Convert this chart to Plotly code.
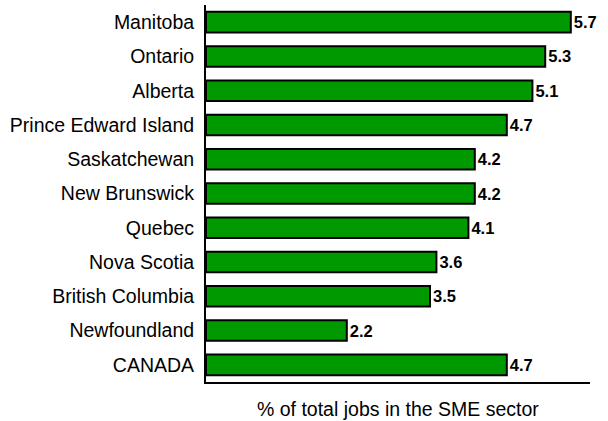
import plotly.graph_objects as go

# Share of total jobs in the SME sector, by province (top to bottom)
provinces = [
    "Manitoba", "Ontario", "Alberta", "Prince Edward Island", "Saskatchewan",
    "New Brunswick", "Quebec", "Nova Scotia", "British Columbia",
    "Newfoundland", "CANADA",
]
share_pct = [5.7, 5.3, 5.1, 4.7, 4.2, 4.2, 4.1, 3.6, 3.5, 2.2, 4.7]
value_labels = [f"{v:.1f}" for v in share_pct]

FONT = "Liberation Sans, Arial, sans-serif"

fig = go.Figure(
    go.Bar(
        x=share_pct,
        y=provinces,
        orientation="h",
        width=0.6,
        marker=dict(color="#009900", line=dict(color="black", width=2)),
        text=value_labels,
        textposition="outside",
        textfont=dict(family=FONT, size=16.5, color="black", weight="bold"),
        cliponaxis=False,
    )
)

fig.update_layout(
    width=608,
    height=421,
    margin=dict(l=206, r=18, t=5, b=39),
    paper_bgcolor="white",
    plot_bgcolor="white",
    showlegend=False,
    font=dict(family=FONT, color="black"),
    xaxis=dict(
        range=[0, 6],
        showgrid=False,
        zeroline=False,
        showticklabels=False,
        ticks="",
        showline=True,
        linecolor="black",
        linewidth=2,
    ),
    yaxis=dict(
        range=[10.5, -0.5],
        showgrid=False,
        zeroline=False,
        ticks="",
        showline=True,
        linecolor="black",
        linewidth=2,
        tickfont=dict(family=FONT, size=19.5, color="black"),
        ticklabelstandoff=6,
    ),
    annotations=[
        dict(
            text="% of total jobs in the SME sector",
            x=0.5, xref="paper",
            y=0, yref="paper",
            yshift=-27, yanchor="middle",
            showarrow=False,
            font=dict(family=FONT, size=19.5, color="black"),
        )
    ],
)

fig.write_html("out.html")
